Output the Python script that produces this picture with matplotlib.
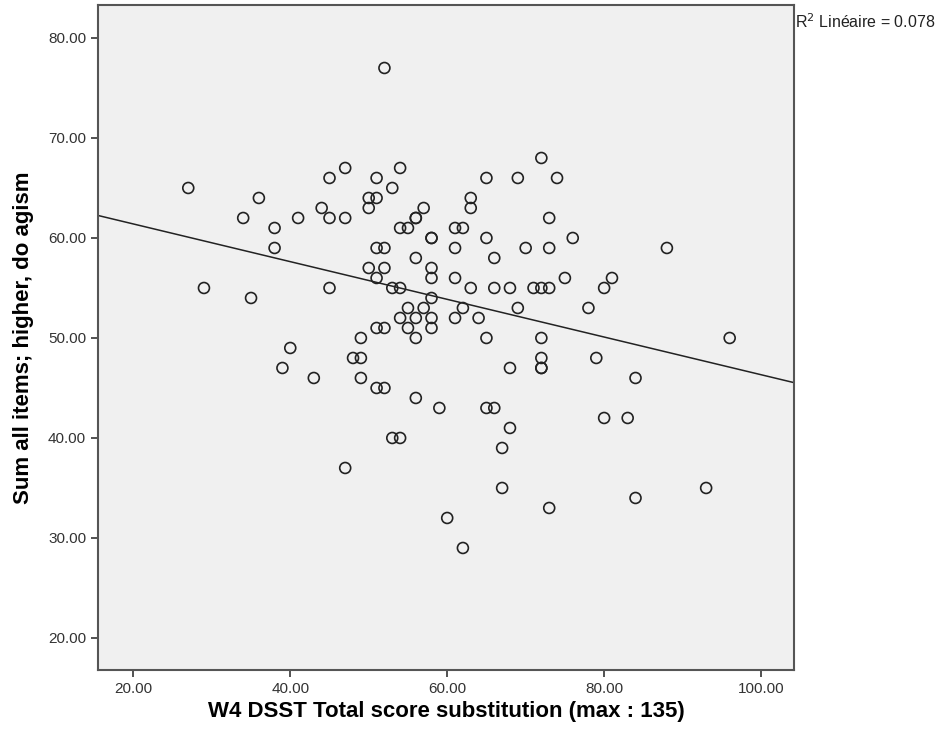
import matplotlib.pyplot as plt
import numpy as np

plt.rcParams['font.family'] = ['Liberation Sans', 'DejaVu Sans']

# W4 DSST score (x) and ageism sum (y)
dsst = [27, 29, 34, 35, 36, 38, 38, 39, 40, 41, 43, 44, 45, 45, 45, 47, 47, 47,
        48, 49, 49, 49, 50, 50, 50, 51, 51, 51, 51, 51, 51, 52, 52, 52, 52, 52,
        53, 53, 53, 54, 54, 54, 54, 54, 55, 55, 55, 56, 56, 56, 56, 56, 56, 57, 57,
        58, 58, 58, 58, 58, 58, 58, 59, 60, 61, 61, 61, 61, 62, 62, 62, 63, 63, 63,
        64, 65, 65, 65, 65, 66, 66, 66, 67, 67, 68, 68, 68, 69, 69, 70, 71,
        72, 72, 72, 72, 72, 72, 73, 73, 73, 73, 74, 75, 76, 78, 79, 80, 80, 81,
        83, 84, 84, 88, 93, 96]
agism = [65, 55, 62, 54, 64, 61, 59, 47, 49, 62, 46, 63, 66, 62, 55, 67, 62, 37,
         48, 48, 50, 46, 64, 63, 57, 66, 64, 59, 56, 51, 45, 77, 59, 57, 51, 45,
         65, 55, 40, 67, 61, 55, 52, 40, 61, 53, 51, 62, 62, 58, 52, 50, 44, 63, 53,
         60, 60, 57, 56, 54, 52, 51, 43, 32, 61, 59, 56, 52, 61, 53, 29, 64, 63, 55,
         52, 66, 60, 50, 43, 58, 55, 43, 39, 35, 55, 47, 41, 66, 53, 59, 55,
         68, 55, 50, 48, 47, 47, 62, 59, 55, 33, 66, 56, 60, 53, 48, 55, 42, 56,
         42, 46, 34, 59, 35, 50]

x_ticks = [20, 40, 60, 80, 100]
y_ticks = [20, 30, 40, 50, 60, 70, 80]

fig = plt.figure(figsize=(9.39, 7.44), dpi=100)
ax = fig.add_axes([0.1044, 0.0995, 0.7412, 0.8938])
ax.set_facecolor('#f0f0f0')

xmin, xmax = 15.5, 104.2
ax.set_xlim(xmin, xmax)
ax.set_ylim(16.8, 83.3)

ax.scatter(dsst, agism, s=62, facecolors='none', edgecolors='#222222', linewidths=1.2, zorder=3)

# linear fit line across the whole axis
slope, intercept = np.polyfit(dsst, agism, 1)
xs = np.array([xmin, xmax])
ax.plot(xs, intercept + slope * xs, color='#222222', lw=1.1, zorder=2)

ax.set_xticks(x_ticks)
ax.set_xticklabels([f'{v:.2f}' for v in x_ticks])
ax.set_yticks(y_ticks)
ax.set_yticklabels([f'{v:.2f}' for v in y_ticks])
ax.tick_params(direction='out', length=5, width=1.2, color='#333333',
               labelsize=11, labelcolor='#333333')

for s in ax.spines.values():
    s.set_color('#555555')
    s.set_linewidth(1.5)

ax.set_xlabel('W4 DSST Total score substitution (max : 135)', fontsize=16,
              fontweight='bold', labelpad=4)
ax.set_ylabel('Sum all items; higher, do agism', fontsize=16,
              fontweight='bold', labelpad=10)

fig.text(0.847, 0.971, r'R$^2$ Linéaire = 0.078', fontsize=11.5,
         color='#222222', va='center')

fig.savefig('out.png', dpi=100)
